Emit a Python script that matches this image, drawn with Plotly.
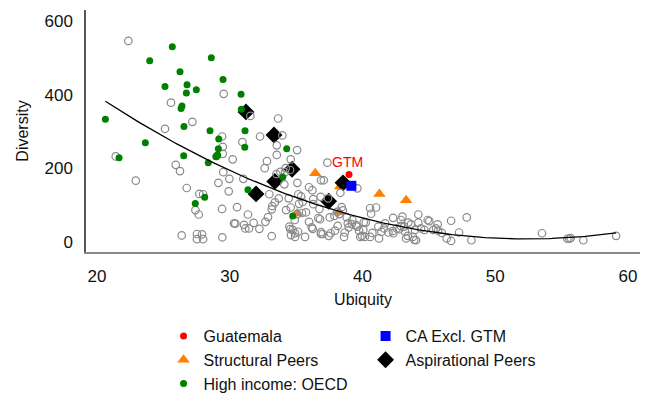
import numpy as np
import plotly.graph_objects as go

# Other countries (open gray circles)
others_ubiquity = [
    22.36, 29.54, 25.57, 27.18, 25.12, 31.55, 33.64, 32.28, 29.42, 30.95, 29.47, 33.54, 29.47, 21.41,
    30.22, 32.80, 29.02, 33.54, 32.63, 33.51, 29.51, 29.97, 31.02, 29.14, 26.76, 29.92, 27.71, 27.99,
    32.98, 33.69, 33.40, 33.20, 27.41, 27.66, 29.42, 30.55, 33.16, 31.37, 32.88, 32.68, 30.32, 30.42,
    31.07, 31.80, 31.17, 31.45, 32.23, 26.38, 27.53, 27.91, 27.53, 27.99, 29.44, 33.16, 25.93, 26.25,
    22.92,
    33.96, 35.07, 34.59, 37.35, 33.81, 34.16, 34.54, 35.09, 34.11, 36.87, 37.08, 39.61, 35.97, 36.22,
    38.33, 34.44, 35.16, 35.37, 36.85, 36.29, 36.29, 35.22, 35.49, 35.74, 35.97, 36.75, 36.67, 36.80,
    37.53, 37.88, 38.43, 38.51, 38.10, 38.25, 34.24, 34.59, 34.89, 35.07, 35.44, 34.49, 34.56, 34.74,
    34.92, 35.14, 34.61, 34.92, 35.67, 36.17, 36.25, 36.87, 36.87, 37.00, 37.45, 37.60, 37.93, 38.13,
    38.61, 38.66, 38.89, 38.96, 39.19, 39.23, 39.51, 39.59, 38.81, 39.74, 39.83, 40.09, 40.24, 37.40,
    34.21,
    40.57, 41.02, 40.64, 42.30, 43.00, 42.88, 44.20, 44.91, 45.03, 44.20, 46.67, 45.66, 40.06, 39.96,
    40.17, 40.74, 40.57, 41.19, 41.42, 41.24, 41.70, 41.62, 41.95, 42.28, 42.32, 42.58, 42.77, 42.88,
    43.13, 43.20, 43.28, 43.79, 43.90, 44.03, 43.95, 44.40, 45.33, 45.54, 45.69, 45.97, 46.34, 46.67,
    47.27, 43.65, 47.85, 48.20, 53.52, 55.43, 55.58, 55.68, 56.63, 59.10, 43.41, 43.45, 44.66,
]
others_diversity = [
    547, 403, 379, 327, 308, 343, 336, 287, 287, 272, 259, 263, 240, 233,
    225, 220, 234, 237, 201, 185, 190, 172, 172, 161, 147, 138, 131, 130,
    130, 119, 108, 98, 87, 75, 90, 95, 89, 75, 68, 55, 51, 50,
    47, 52, 37, 37, 36, 18, 22, 21, 8, 8, 13, 16, 210, 193,
    167,
    290, 250, 225, 216, 191, 190, 196, 161, 157, 168, 168, 146, 149, 141,
    134, 119, 130, 124, 123, 117, 103, 104, 109, 81, 55, 90, 65, 62,
    67, 71, 95, 86, 82, 76, 87, 94, 60, 76, 79, 42, 35, 33,
    24, 28, 19, 14, 14, 40, 36, 22, 27, 22, 17, 24, 31, 44,
    14, 26, 51, 40, 49, 60, 46, 42, 67, 31, 14, 54, 53, 119,
    201,
    92, 94, 77, 66, 69, 60, 75, 60, 57, 53, 58, 48, 33, 17,
    14, 25, 14, 42, 28, 10, 51, 37, 26, 30, 24, 37, 35, 44,
    42, 28, 10, 14, 6, 5, 33, 37, 33, 37, 31, 25, 10, 3,
    26, 48, 67, 5, 24, 9, 9, 11, 5, 17, 17, 53, 33,
]

# High income: OECD
oecd_ubiquity = [25.67, 23.97, 28.61, 26.25, 29.49, 26.78, 25.12, 27.48, 26.73, 30.85, 26.40, 26.33,
                 30.87, 20.63, 26.55, 28.51, 31.15, 23.64, 29.17, 29.14, 31.13, 21.66, 26.53, 28.96,
                 29.09, 28.38, 31.37, 28.11, 27.40, 34.29, 33.99, 34.74]
oecd_diversity = [531, 493, 501, 463, 442, 428, 423, 414, 405, 402, 370, 363,
                  361, 334, 314, 303, 303, 270, 280, 254, 258, 229, 235, 232,
                  237, 216, 142, 122, 105, 254, 177, 71]

# Structural peers
structural_ubiquity = [36.44, 38.31, 41.27, 43.28, 35.09, 38.23]
structural_diversity = [187, 151, 131, 114, 78, 82]

# Aspirational peers
aspirational_ubiquity = [31.22, 33.33, 34.69, 33.39, 31.98, 38.53, 37.45]
aspirational_diversity = [354, 291, 198, 165, 131, 161, 111]

# Guatemala and Central America excluding Guatemala
gtm_ubiquity = [38.98]
gtm_diversity = [184]
ca_ubiquity = [39.16]
ca_diversity = [153]

x_ticks = [20, 30, 40, 50, 60]
y_ticks = [0, 200, 400, 600]

# Quadratic trend over every country
all_x = np.array(others_ubiquity + oecd_ubiquity + structural_ubiquity + aspirational_ubiquity
                 + gtm_ubiquity + ca_ubiquity)
all_y = np.array(others_diversity + oecd_diversity + structural_diversity + aspirational_diversity
                 + gtm_diversity + ca_diversity)
coef = np.polyfit(all_x, all_y, 2)
fit_x = np.linspace(all_x.min(), all_x.max(), 200)
fit_y = np.polyval(coef, fit_x)

FONT = "Liberation Sans, Arial, sans-serif"

fig = go.Figure()

fig.add_trace(go.Scatter(
    x=structural_ubiquity, y=structural_diversity, mode="markers", name="Structural Peers",
    marker=dict(symbol="triangle-up", size=11, color="#ff8000"), legendrank=3))
fig.add_trace(go.Scatter(
    x=aspirational_ubiquity, y=aspirational_diversity, mode="markers", name="Aspirational Peers",
    marker=dict(symbol="diamond", size=13, color="#000000"), legendrank=4))
fig.add_trace(go.Scatter(
    x=others_ubiquity, y=others_diversity, mode="markers", showlegend=False, hoverinfo="skip",
    marker=dict(symbol="circle-open", size=7.5, color="#8a8a8a", line=dict(width=1.2))))
fig.add_trace(go.Scatter(
    x=oecd_ubiquity, y=oecd_diversity, mode="markers", name="High income: OECD",
    marker=dict(symbol="circle", size=7, color="#008000"), legendrank=5))
fig.add_trace(go.Scatter(
    x=fit_x, y=fit_y, mode="lines", showlegend=False, hoverinfo="skip",
    line=dict(color="#000000", width=1.3)))
fig.add_trace(go.Scatter(
    x=ca_ubiquity, y=ca_diversity, mode="markers", name="CA Excl. GTM",
    marker=dict(symbol="square", size=10, color="#0000ff"), legendrank=2))
fig.add_trace(go.Scatter(
    x=gtm_ubiquity, y=gtm_diversity, mode="markers", name="Guatemala",
    marker=dict(symbol="circle", size=7, color="#ff0000"), legendrank=1))

fig.add_annotation(x=gtm_ubiquity[0], y=gtm_diversity[0], text="GTM", showarrow=False,
                   yshift=12, xshift=-1, font=dict(family=FONT, size=14, color="#ff0000"))

fig.update_xaxes(
    range=[19.17, 60.9], tickvals=x_ticks, showgrid=False, zeroline=False,
    showline=True, linecolor="#888888", linewidth=2, ticks="", ticklabelstandoff=8,
    tickfont=dict(family=FONT, size=17, color="#111111"),
    title=dict(text="Ubiquity", font=dict(family=FONT, size=16, color="#111111"), standoff=8))
fig.update_yaxes(
    range=[-27, 631], tickvals=y_ticks, showgrid=False, zeroline=False,
    showline=True, linecolor="#555555", linewidth=1.5, ticks="", ticklabelstandoff=8,
    tickfont=dict(family=FONT, size=17, color="#111111"),
    title=dict(text="Diversity", font=dict(family=FONT, size=16, color="#111111"), standoff=12))

fig.update_layout(
    width=648, height=393,
    margin=dict(l=86, r=8, t=10, b=141, autoexpand=False),
    plot_bgcolor="white", paper_bgcolor="white",
    showlegend=True,
    legend=dict(orientation="h", x=0.14, xanchor="left",
                yref="container", y=0.188, yanchor="top",
                entrywidth=157, entrywidthmode="pixels", traceorder="normal",
                font=dict(family=FONT, size=16, color="#111111"), itemclick=False),
)

fig.write_html("out.html")
